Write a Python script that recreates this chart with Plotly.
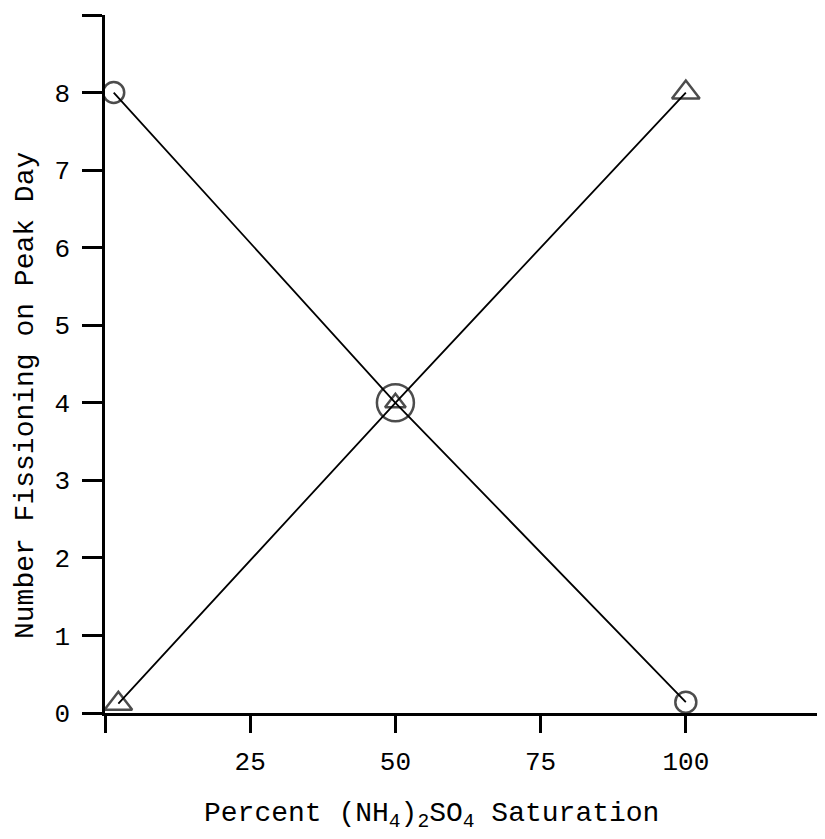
import plotly.graph_objects as go

# Data
circle_x = [1.5, 50, 100]
circle_y = [8, 4, 0.14]
triangle_x = [2.3, 50, 100]
triangle_y = [0.12, 4, 8]

x_tick_vals = [0, 25, 50, 75, 100]
x_tick_text = ["", "25", "50", "75", "100"]
y_tick_vals = [0, 1, 2, 3, 4, 5, 6, 7, 8, 9]
y_tick_text = ["0", "1", "2", "3", "4", "5", "6", "7", "8", ""]

x_title = "Percent (NH<sub>4</sub>)<sub>2</sub>SO<sub>4</sub> Saturation"
y_title = "Number Fissioning on Peak Day"

FONT = "Liberation Mono"
INK = "#000000"

fig = go.Figure()

fig.add_trace(go.Scatter(
    x=circle_x, y=circle_y, mode="lines+markers",
    line=dict(color=INK, width=1.8),
    marker=dict(symbol="circle-open", size=[21, 37, 21], color=INK,
                line=dict(color=INK, width=2.5)),
    cliponaxis=False, showlegend=False,
))
fig.add_trace(go.Scatter(
    x=triangle_x, y=triangle_y, mode="lines+markers",
    line=dict(color=INK, width=1.8),
    marker=dict(symbol="triangle-up-open", size=[24, 18, 24], color=INK,
                line=dict(color=INK, width=2.5)),
    cliponaxis=False, showlegend=False,
))

# the page body adds an 8px margin, so the figure is 8px smaller and shifted
W, H = 817, 831
L, R, T, B = 97, 5, 7, 126
pw = W - L - R
ph = H - T - B

fig.update_layout(
    width=W, height=H,
    margin=dict(l=L, r=R, t=T, b=B, pad=0),
    paper_bgcolor="white", plot_bgcolor="white",
    font=dict(family=FONT, color=INK, size=26),
    xaxis=dict(
        range=[0, 123.1], showgrid=False, zeroline=False,
        showline=True, linecolor=INK, linewidth=2.5,
        ticks="outside", ticklen=17, tickwidth=2.5, tickcolor=INK,
        tickvals=x_tick_vals, ticktext=x_tick_text,
        tickfont=dict(family=FONT, size=26, color=INK),
        ticklabelstandoff=6,
    ),
    yaxis=dict(
        range=[0, 9], showgrid=False, zeroline=False,
        showline=True, linecolor=INK, linewidth=2.5,
        ticks="outside", ticklen=20, tickwidth=2.5, tickcolor=INK,
        tickvals=y_tick_vals, ticktext=y_tick_text,
        tickfont=dict(family=FONT, size=26, color=INK),
        ticklabelstandoff=7,
    ),
    annotations=[
        dict(text=x_title, xref="paper", yref="paper",
             x=(431 - 8 - L) / pw, y=(705 - 807) / ph,
             xanchor="center", yanchor="middle", showarrow=False,
             font=dict(family=FONT, size=28, color=INK)),
        dict(text=y_title, xref="paper", yref="paper",
             x=(25 - 8 - L) / pw, y=(705 - 388) / ph, textangle=-90,
             xanchor="center", yanchor="middle", showarrow=False,
             font=dict(family=FONT, size=28, color=INK)),
    ],
)

fig.write_html("out.html")
